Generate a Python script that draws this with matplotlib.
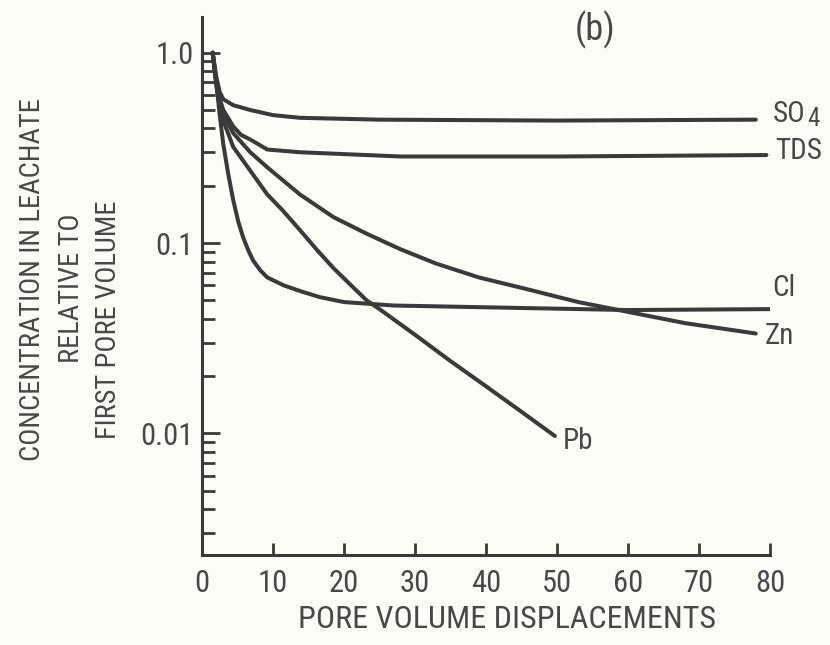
import matplotlib
matplotlib.use("Agg")
from matplotlib import pyplot as plt
import matplotlib.ticker as mtick

# values (pore volumes, relative concentration)
so4_x = [1.5, 2, 2.5, 3, 4.4, 6.8, 10, 13.8, 25, 50, 78]
so4_y = [1.0, 0.75, 0.62, 0.57, 0.53, 0.50, 0.47, 0.455, 0.445, 0.44, 0.445]

tds_x = [1.5, 2, 2.5, 3, 4.4, 5.5, 6.8, 9.2, 13.8, 28, 50, 79.5]
tds_y = [1.0, 0.72, 0.57, 0.5, 0.41, 0.37, 0.35, 0.31, 0.30, 0.285, 0.285, 0.29]

cl_x = [1.5, 2, 2.5, 3, 3.7, 4.4, 5.1, 5.8, 6.5, 7.2, 8.2, 9.2, 11.5, 13.8, 16.6, 20, 27, 40, 60, 80]
cl_y = [1.0, 0.7, 0.47, 0.33, 0.23, 0.168, 0.13, 0.107, 0.092, 0.081, 0.072, 0.066, 0.06, 0.056,
        0.052, 0.049, 0.047, 0.046, 0.0445, 0.045]

zn_x = [1.5, 2, 2.5, 3, 4.4, 6.8, 9.2, 13.8, 18.5, 23.2, 27.9, 33, 39, 46, 53, 60.7, 68, 78]
zn_y = [1.0, 0.7, 0.55, 0.48, 0.378, 0.3, 0.25, 0.18, 0.137, 0.112, 0.093, 0.078, 0.066, 0.057,
        0.049, 0.043, 0.038, 0.0335]

pb_x = [1.5, 2, 2.5, 3, 4.4, 6.8, 9.2, 11.4, 13.8, 16.2, 18.5, 20.8, 23.2, 25, 30, 35, 40, 45, 49.7]
pb_y = [1.0, 0.68, 0.52, 0.44, 0.32, 0.24, 0.18, 0.148, 0.117, 0.092, 0.074, 0.061, 0.05, 0.045,
        0.033, 0.024, 0.0177, 0.013, 0.0097]

x_ticks = [0, 10, 20, 30, 40, 50, 60, 70, 80]
y_ticks = [0.01, 0.1, 1.0]
y_tick_labels = ["0.01", "0.1", "1.0"]

plt.rcParams['font.family'] = ['Roboto Condensed', 'DejaVu Sans']
plt.rcParams['font.weight'] = 'normal'
ink = "#3a3a3a"
txt = "#484848"
bg = "#fdfdf7"

fig = plt.figure(figsize=(8.3, 6.45), dpi=100, facecolor=bg)
ax = fig.add_axes([202/830, 1-555/645, 568/830, 538/645], facecolor=bg)

for xs, ys in [(so4_x, so4_y), (tds_x, tds_y), (cl_x, cl_y), (zn_x, zn_y), (pb_x, pb_y)]:
    ax.plot(xs, ys, color=ink, lw=2.9, solid_capstyle='round', solid_joinstyle='round')

ax.set_yscale('log')
ax.set_xlim(0, 80)
ax.set_ylim(0.0023, 1.54)
ax.set_xticks(x_ticks)
ax.set_xticklabels([str(t) for t in x_ticks])
ax.set_yticks(y_ticks)
ax.set_yticklabels(y_tick_labels)
ax.yaxis.set_minor_locator(mtick.LogLocator(base=10, subs=[2, 3, 4, 5, 6, 7, 8, 9]))
ax.yaxis.set_minor_formatter(mtick.NullFormatter())

for s in ['top', 'right']:
    ax.spines[s].set_visible(False)
for s in ['left', 'bottom']:
    ax.spines[s].set_linewidth(2.2)
    ax.spines[s].set_color(ink)

ax.tick_params(axis='y', which='major', direction='in', length=13, width=2, color=ink,
               labelsize=22, labelcolor=txt, pad=6)
ax.tick_params(axis='y', which='minor', direction='in', length=9, width=2, color=ink)
ax.tick_params(axis='x', which='major', direction='in', length=9, width=2, color=ink,
               labelsize=22, labelcolor=txt, pad=10)

# axis titles
fig.text(507/830, 1-619/645, "PORE VOLUME DISPLACEMENTS", fontsize=23, color=txt,
         ha='center', va='center')
fig.text(33/830, 1-280/645, "CONCENTRATION IN LEACHATE", fontsize=20.5, color=txt,
         ha='center', va='center', rotation=90)
fig.text(71/830, 1-288/645, "RELATIVE TO", fontsize=20.5, color=txt,
         ha='center', va='center', rotation=90)
fig.text(109/830, 1-320/645, "FIRST PORE VOLUME", fontsize=20.5, color=txt,
         ha='center', va='center', rotation=90)

# curve labels
ax.text(80.4, 0.432, "SO", fontsize=21, color=txt, va='baseline', ha='left', clip_on=False)
ax.text(85.3, 0.41, "4", fontsize=18, color=txt, va='baseline', ha='left', clip_on=False)
ax.text(80.7, 0.304, "TDS", fontsize=21, color=txt, va='center', ha='left', clip_on=False)
ax.text(80.3, 0.058, "Cl", fontsize=21, color=txt, va='center', ha='left', clip_on=False)
ax.text(79.3, 0.0327, "Zn", fontsize=21, color=txt, va='center', ha='left', clip_on=False)
ax.text(50.8, 0.0091, "Pb", fontsize=21, color=txt, va='center', ha='left', clip_on=False)
ax.text(55.4, 1.32, "(b)", fontsize=26, color=txt, va='center', ha='center', clip_on=False)

plt.savefig("out.png", dpi=100, facecolor=bg)
